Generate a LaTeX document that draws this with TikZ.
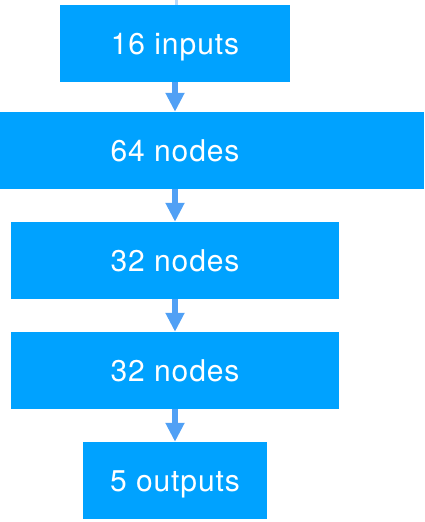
\documentclass[tikz,border=0pt]{standalone}
\usepackage{fontspec}
\setmainfont{TeX Gyre Heros}[LetterSpace=3]
\usetikzlibrary{arrows.meta}
\definecolor{boxblue}{RGB}{0,162,255}
\definecolor{arrowblue}{RGB}{80,160,245}
\begin{document}
\begin{tikzpicture}[x=1pt,y=1pt,
  layer/.style={rectangle, fill=boxblue, draw=none, minimum height=77pt, inner sep=0pt},
  lbl/.style={text=white, font=\fontsize{30}{30}\selectfont, inner sep=0pt, anchor=base},
  flow/.style={draw=arrowblue, line width=6pt, -{Triangle[width=18pt,length=19pt]}}
]
\useasboundingbox (0,0) rectangle (424,-522);

% layers of the network
\node[layer, minimum width=230pt] (in)  at (175,-43.5)  {};
\node[lbl] at ([yshift=-10.5pt]in.center) {16 inputs};
\node[layer, minimum width=424pt] (h1)  at (212,-150.5) {};
\node[lbl] (h1t) at (175,-161) {64 nodes};
\node[layer, minimum width=328pt] (h2)  at (175,-260.5) {};
\node[lbl] at ([yshift=-10.5pt]h2.center) {32 nodes};
\node[layer, minimum width=328pt] (h3)  at (175,-370.5) {};
\node[lbl] at ([yshift=-10.5pt]h3.center) {32 nodes};
\node[layer, minimum width=184pt] (out) at (175,-480.5) {};
\node[lbl] at ([yshift=-10.5pt]out.center) {5 outputs};

% faint stub entering the input layer
\coordinate (top) at (176,0);
\draw[arrowblue!40, line width=3pt] (top) -- (top |- in.north);

% connections between layers
\draw[flow] (in.south) -- (in.south |- h1.north);
\draw[flow] (in.south |- h1.south) -- (h2.north);
\draw[flow] (h2.south) -- (h3.north);
\draw[flow] (h3.south) -- (out.north);
\end{tikzpicture}
\end{document}
